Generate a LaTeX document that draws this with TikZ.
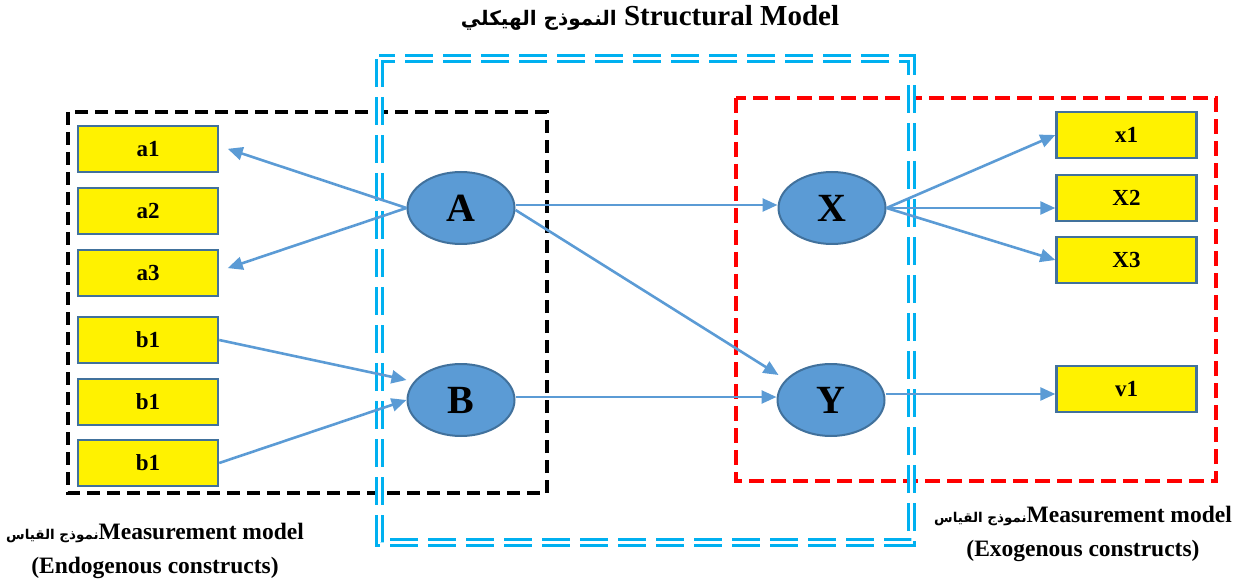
\documentclass[tikz,border=0pt]{standalone}
\usepackage{fontspec}
\setmainfont{Liberation Serif}
\newfontfamily\arabicfont[Script=Arabic]{DejaVu Sans}
\TeXXeTstate=1
\usetikzlibrary{arrows.meta,shapes.geometric}
\definecolor{indborder}{HTML}{41719C}
\definecolor{ellfill}{HTML}{5B9BD5}
\definecolor{arrowblue}{HTML}{5B9BD5}
\definecolor{cyanline}{HTML}{00B0F0}
\definecolor{redline}{HTML}{FF0000}
\tikzset{
  indbox/.style={draw=indborder, fill=yellow, line width=2.4pt, minimum width=140pt, minimum height=46pt, inner sep=0pt, font=\fontsize{23}{26}\selectfont\bfseries},
  latent/.style={ellipse, draw=indborder, fill=ellfill, line width=2pt, minimum width=107pt, minimum height=72pt, inner sep=0pt, font=\fontsize{40}{44}\selectfont\bfseries},
  conn/.style={draw=arrowblue, line width=2.6pt, -{Triangle[length=15pt,width=13pt]}},
  blackbox/.style={draw=black, line width=4pt, dash pattern=on 13pt off 7pt},
  redbox/.style={draw=redline, line width=4pt, dash pattern=on 15pt off 7pt},
  cyanbox/.style={draw=cyanline, double=white, line width=3pt, double distance=3pt, dash pattern=on 28pt off 10pt},
  lbl/.style={align=center, inner sep=0pt, font=\fontsize{23.5}{34}\selectfont\bfseries}
}
\begin{document}
\begin{tikzpicture}[x=1pt,y=-1pt]
\useasboundingbox (0,0) rectangle (1239,585);
% boxes
\draw[blackbox] (68,112) rectangle (547,493);
\draw[redbox] (736,98) rectangle (1216,481);
\draw[cyanbox] (379,59) rectangle (911,542);
% left indicators
\node[indbox] (a1) at (148,149) {a1};
\node[indbox] (a2) at (148,211) {a2};
\node[indbox] (a3) at (148,273) {a3};
\node[indbox] (b1a) at (148,340) {b1};
\node[indbox] (b1b) at (148,402) {b1};
\node[indbox] (b1c) at (148,463) {b1};
% right indicators
\node[indbox] (x1) at (1126.5,135) {x1};
\node[indbox] (x2) at (1126.5,198) {X2};
\node[indbox] (x3) at (1126.5,260) {X3};
\node[indbox] (v1) at (1126.5,389) {v1};
% latent
\node[latent] (A) at (461,208) {A};
\node[latent] (B) at (461,400) {B};
\node[latent] (X) at (832,208) {X};
\node[latent] (Y) at (831,400) {Y};
% connectors
\draw[conn, shorten >=9pt] (A.west) -- ([yshift=3pt]a1.east);
\draw[conn, shorten >=9pt] (A.west) -- ([yshift=2pt]a3.east);
\draw[conn] (b1a.east) -- ([yshift=20pt]B.west);
\draw[conn] (b1c.east) -- (B.west);
\draw[conn] ([yshift=3pt]A.east) -- ([yshift=3pt]X.west);
\draw[conn] ([yshift=-2pt]A.east) -- ([xshift=2pt,yshift=25pt]Y.west);
\draw[conn] ([yshift=3pt]B.east) -- ([yshift=3pt]Y.west);
\draw[conn] (X.east) -- (x1.west);
\draw[conn] (X.east) -- ([yshift=-10pt]x2.west);
\draw[conn] (X.east) -- (x3.west);
\draw[conn] ([yshift=6pt]Y.east) -- ([yshift=-5pt]v1.west);
% labels
\node[lbl] (title) at (650,18) {{\arabicfont\fontsize{20}{22}\selectfont\beginR النموذج الهيكلي\endR}\fontsize{29}{32}\selectfont\ Structural Model};
\node[lbl] (mL) at (155,551) {{\arabicfont\fontsize{13.5}{16}\selectfont\beginR نموذج القياس\endR}Measurement model\\(Endogenous constructs)};
\node[lbl] (mR) at (1083,534) {{\arabicfont\fontsize{13.5}{16}\selectfont\beginR نموذج القياس\endR}Measurement model\\(Exogenous constructs)};
\end{tikzpicture}
\end{document}
